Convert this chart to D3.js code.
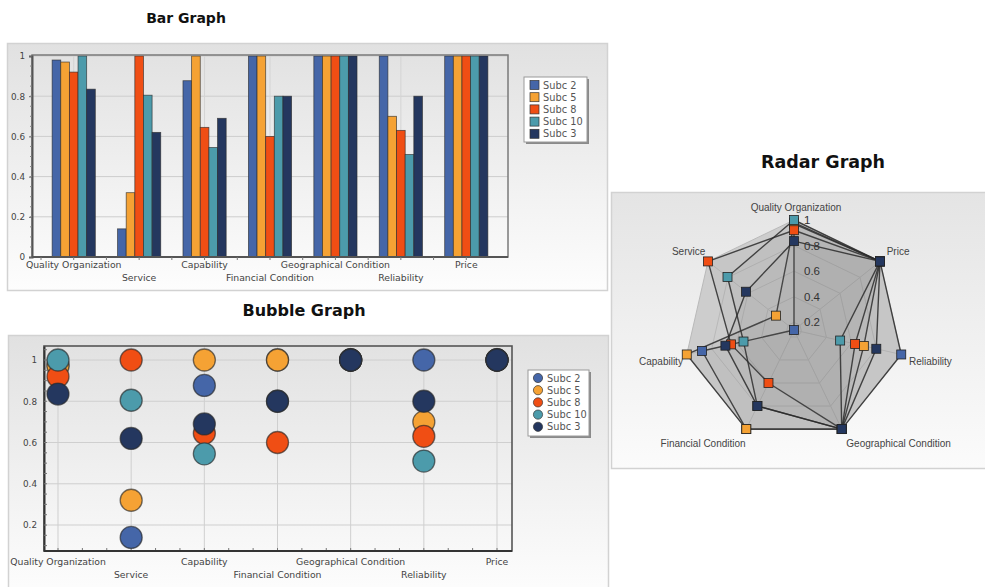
<!DOCTYPE html>
<html>
<head>
<meta charset="utf-8">
<script src="https://cdn.jsdelivr.net/npm/d3@7"></script>
<style>
  body { margin: 0; background: #ffffff; }
  svg { display: block; }
</style>
</head>
<body>
<svg id="chart" width="985" height="587"></svg>
<script>
// ---- data -------------------------------------------------------------
const categories = ["Quality Organization", "Service", "Capability", "Financial Condition",
                    "Geographical Condition", "Reliability", "Price"];
const seriesNames = ["Subc 2", "Subc 5", "Subc 8", "Subc 10", "Subc 3"];
const subc2  = [0.98, 0.14, 0.877, 1.00, 1, 1.00, 1];
const subc5  = [0.97, 0.32, 1.00,  1.00, 1, 0.70, 1];
const subc8  = [0.92, 1.00, 0.645, 0.60, 1, 0.63, 1];
const subc10 = [1.00, 0.805, 0.545, 0.80, 1, 0.51, 1];
const subc3  = [0.835, 0.62, 0.69, 0.80, 1, 0.80, 1];
const seriesColors = ["#4566a8", "#f5a234", "#f04e14", "#4c9bab", "#24375f"];
const valueTicks = [0, 0.2, 0.4, 0.6, 0.8, 1];
const bubbleTicks = [0.2, 0.4, 0.6, 0.8, 1];
const radarTicks = [0.2, 0.4, 0.6, 0.8, 1];

const series = seriesNames.map((name, i) => ({
  name, color: seriesColors[i], values: [subc2, subc5, subc8, subc10, subc3][i]
}));

const svg = d3.select("#chart");
const fmt = d3.format("~g");
const labelFont = "'DejaVu Sans', Verdana, sans-serif";

// ---- shared defs --------------------------------------------------------
const defs = svg.append("defs");
function vGradient(id, top, bottom) {
  const g = defs.append("linearGradient").attr("id", id)
    .attr("x1", 0).attr("y1", 0).attr("x2", 0).attr("y2", 1);
  g.append("stop").attr("offset", "0%").attr("stop-color", top);
  g.append("stop").attr("offset", "100%").attr("stop-color", bottom);
}
vGradient("panelGrad", "#e1e1e1", "#fdfdfd");
vGradient("radarGrad", "#e4e4e4", "#fbfbfb");

function panel(x, y, w, h, fill) {
  svg.append("rect").attr("x", x + 0.5).attr("y", y + 0.5).attr("width", w).attr("height", h)
    .attr("fill", fill).attr("stroke", "#d2d2d2").attr("stroke-width", 1.5);
}
function title(text, x, y, size) {
  svg.append("text").attr("x", x).attr("y", y).attr("text-anchor", "middle")
    .attr("dominant-baseline", "central")
    .style("font-family", "'DejaVu Sans', Verdana, sans-serif")
    .style("font-weight", "bold").style("font-size", size + "px").attr("fill", "#111")
    .text(text);
}
function legend(x, y, w, h, marker) {
  const lg = svg.append("g");
  lg.append("rect").attr("x", x + 2).attr("y", y + 2).attr("width", w).attr("height", h)
    .attr("fill", "#8a8a8a");
  lg.append("rect").attr("x", x).attr("y", y).attr("width", w).attr("height", h)
    .attr("fill", "#ffffff").attr("stroke", "#9a9a9a").attr("stroke-width", 1);
  series.forEach((s, i) => {
    const cy = y + 8 + i * 12.2;
    if (marker === "square") {
      lg.append("rect").attr("x", x + 6).attr("y", cy - 4.5).attr("width", 9).attr("height", 9)
        .attr("fill", s.color).attr("stroke", "#333").attr("stroke-width", 0.7);
    } else {
      lg.append("circle").attr("cx", x + 10).attr("cy", cy).attr("r", 4.6)
        .attr("fill", s.color).attr("stroke", "#333").attr("stroke-width", 0.7);
    }
    lg.append("text").attr("x", x + 19).attr("y", cy).attr("dominant-baseline", "central")
      .style("font-family", labelFont).style("font-size", "9.8px").attr("fill", "#555")
      .text(s.name);
  });
}
function staggeredLabels(g, xPos, y1, y2) {
  categories.forEach((c, i) => {
    g.append("text").attr("x", xPos(c)).attr("y", i % 2 === 0 ? y1 : y2)
      .attr("text-anchor", "middle").attr("dominant-baseline", "central")
      .style("font-family", labelFont).style("font-size", "9.3px").attr("fill", "#444")
      .text(c);
  });
}

// ---- Bar Graph ------------------------------------------------------------
panel(7, 43, 600, 247, "url(#panelGrad)");
title("Bar Graph", 186, 18, 14);

const bar = { left: 32, right: 508, top: 55, bottom: 257 };
const barG = svg.append("g");
const xBar = d3.scaleBand().domain(categories).range([41, 499])
  .paddingInner(0.34).paddingOuter(0.17);
const xSub = d3.scaleBand().domain(seriesNames).range([0, xBar.bandwidth()]);
const yBar = d3.scaleLinear().domain([0, 1]).range([bar.bottom, bar.top + 1]);

// grid
barG.selectAll(".hg").data(valueTicks.slice(1)).join("line")
  .attr("x1", bar.left).attr("x2", bar.right)
  .attr("y1", d => yBar(d)).attr("y2", d => yBar(d))
  .attr("stroke", "#cdcdcd").attr("stroke-width", 1);
barG.selectAll(".vg").data(categories).join("line")
  .attr("x1", d => xBar(d) + xBar.bandwidth() / 2).attr("x2", d => xBar(d) + xBar.bandwidth() / 2)
  .attr("y1", bar.top).attr("y2", bar.bottom)
  .attr("stroke", "#d4d4d4").attr("stroke-width", 1);

// bars
categories.forEach((c, ci) => {
  series.forEach(s => {
    const v = s.values[ci];
    barG.append("rect")
      .attr("x", xBar(c) + xSub(s.name)).attr("width", xSub.bandwidth())
      .attr("y", yBar(v)).attr("height", yBar(0) - yBar(v))
      .attr("fill", s.color).attr("stroke", "#2b2b2b").attr("stroke-opacity", 0.75)
      .attr("stroke-width", 0.8);
  });
});

// frame + axes
barG.append("rect").attr("x", bar.left).attr("y", bar.top)
  .attr("width", bar.right - bar.left).attr("height", bar.bottom - bar.top)
  .attr("fill", "none").attr("stroke", "#7a7a7a").attr("stroke-width", 1.5);
const yAxisBar = barG.append("g").attr("transform", `translate(${bar.left},0)`)
  .call(d3.axisLeft(yBar).tickValues(valueTicks).tickFormat(fmt).tickSize(3).tickPadding(4));
yAxisBar.select(".domain").attr("stroke", "#555").attr("stroke-width", 2);
yAxisBar.selectAll("text").style("font-family", labelFont).style("font-size", "8.8px").attr("fill", "#444");
yAxisBar.selectAll("line").attr("stroke", "#666");
barG.selectAll(".ymin").data(d3.range(0.05, 1, 0.05)).join("line")
  .attr("x1", bar.left - 2).attr("x2", bar.left).attr("y1", d => yBar(d)).attr("y2", d => yBar(d))
  .attr("stroke", "#888");
barG.append("line").attr("x1", bar.left).attr("x2", bar.right)
  .attr("y1", bar.bottom).attr("y2", bar.bottom).attr("stroke", "#555").attr("stroke-width", 2);
const barTickXs = categories.flatMap(c => [xBar(c) - xBar.step() * 0.17, xBar(c) + xBar.bandwidth() / 2]);
barG.selectAll(".xt").data(barTickXs).join("line")
  .attr("x1", d => d).attr("x2", d => d).attr("y1", bar.bottom).attr("y2", bar.bottom + 3)
  .attr("stroke", "#777");
staggeredLabels(barG, c => xBar(c) + xBar.bandwidth() / 2, 264.5, 277);
legend(524, 77, 63, 65, "square");

// ---- Bubble Graph -----------------------------------------------------------
panel(8, 335, 600, 260, "url(#panelGrad)");
title("Bubble Graph", 304, 310, 16);

const bub = { left: 44, right: 512, top: 346, bottom: 551 };
const bubG = svg.append("g");
const xBub = d3.scalePoint().domain(categories).range([58, 497]);
const yBub = d3.scaleLinear().domain([0.074, 1.068]).range([bub.bottom, bub.top]);

bubG.selectAll(".hg").data(bubbleTicks).join("line")
  .attr("x1", bub.left).attr("x2", bub.right)
  .attr("y1", d => yBub(d)).attr("y2", d => yBub(d))
  .attr("stroke", "#cfcfcf");
bubG.selectAll(".vg").data(categories).join("line")
  .attr("x1", d => xBub(d)).attr("x2", d => xBub(d))
  .attr("y1", bub.top).attr("y2", bub.bottom)
  .attr("stroke", "#cfcfcf");
const bubTickXs = d3.range(categories.length * 3 - 2).map(k => 58 + k * (497 - 58) / (categories.length * 3 - 3));
bubG.selectAll(".xt").data(bubTickXs).join("line")
  .attr("x1", d => d).attr("x2", d => d).attr("y1", bub.bottom - 3).attr("y2", bub.bottom)
  .attr("stroke", "#777");
bubG.append("rect").attr("x", bub.left).attr("y", bub.top)
  .attr("width", bub.right - bub.left).attr("height", bub.bottom - bub.top)
  .attr("fill", "none").attr("stroke", "#555").attr("stroke-width", 1.6);
const yAxisBub = bubG.append("g").attr("transform", `translate(${bub.left},0)`)
  .call(d3.axisLeft(yBub).tickValues(bubbleTicks).tickFormat(fmt).tickSize(0).tickPadding(7));
yAxisBub.select(".domain").attr("stroke", "#333").attr("stroke-width", 2);
yAxisBub.selectAll("text").style("font-family", labelFont).style("font-size", "8.8px").attr("fill", "#444");
bubG.selectAll(".ymin").data(d3.range(0.1, 1.06, 0.05)).join("line")
  .attr("x1", bub.left).attr("x2", bub.left + 3).attr("y1", d => yBub(d)).attr("y2", d => yBub(d))
  .attr("stroke", "#777");
bubG.append("line").attr("x1", bub.left).attr("x2", bub.right)
  .attr("y1", bub.bottom).attr("y2", bub.bottom).attr("stroke", "#333").attr("stroke-width", 2.2);

series.forEach(s => {
  bubG.selectAll(null).data(s.values).join("circle")
    .attr("cx", (d, i) => xBub(categories[i])).attr("cy", d => yBub(d)).attr("r", 11)
    .attr("fill", s.color).attr("stroke", "#2a2a2a").attr("stroke-opacity", 0.65).attr("stroke-width", 1.3);
});
staggeredLabels(bubG, c => xBub(c), 561.5, 574);
legend(528, 370, 61, 66, "circle");

// ---- Radar Graph ------------------------------------------------------------
panel(611, 192, 380, 276, "url(#radarGrad)");
title("Radar Graph", 823, 162, 17.5);

const rc = { x: 794, y: 330 };
const R = 110;
const n = categories.length;
const allValues = series.flatMap(s => s.values);
const rScale = d3.scaleLinear().domain([d3.min(allValues), 1]).range([0, R]);
const angle = i => -i * 2 * Math.PI / n;
const pt = (i, v) => [rc.x + rScale(v) * Math.sin(angle(i)), rc.y - rScale(v) * Math.cos(angle(i))];
const radG = svg.append("g");
const closed = d3.line().curve(d3.curveLinearClosed);

// web background and rings
radG.append("path").attr("d", closed(categories.map((c, i) => pt(i, 1))))
  .attr("fill", "#cdcdcd").attr("stroke", "none");
radG.selectAll(".ring").data(radarTicks).join("path")
  .attr("d", t => closed(categories.map((c, i) => pt(i, t))))
  .attr("fill", "none").attr("stroke", "#b9b9b9").attr("stroke-width", 1);
radG.selectAll(".spoke").data(categories).join("line")
  .attr("x1", rc.x).attr("y1", rc.y)
  .attr("x2", (c, i) => pt(i, 1)[0]).attr("y2", (c, i) => pt(i, 1)[1])
  .attr("stroke", "#b9b9b9").attr("stroke-width", 1);

// series polygons
series.forEach(s => {
  radG.append("path").attr("d", closed(s.values.map((v, i) => pt(i, v))))
    .attr("fill", "#666").attr("fill-opacity", 0.06)
    .attr("stroke", "#2a2a2a").attr("stroke-opacity", 0.85).attr("stroke-width", 1.4)
    .attr("stroke-linejoin", "round");
});
series.forEach(s => {
  radG.selectAll(null).data(s.values).join("rect")
    .attr("x", (v, i) => pt(i, v)[0] - 4.5).attr("y", (v, i) => pt(i, v)[1] - 4.5)
    .attr("width", 9).attr("height", 9)
    .attr("fill", s.color).attr("stroke", "#222").attr("stroke-width", 0.8);
});

// radial tick labels
radG.selectAll(".rt").data(radarTicks).join("text")
  .attr("x", rc.x + 10).attr("y", t => rc.y - rScale(t))
  .attr("dominant-baseline", "central")
  .style("font-family", "'Liberation Sans', Arial, sans-serif").style("font-size", "11.5px")
  .attr("fill", "#333").text(fmt);

// category labels
categories.forEach((c, i) => {
  const a = angle(i), s = Math.sin(a), co = Math.cos(a);
  const [vx, vy] = pt(i, 1);
  const anchor = Math.abs(s) < 0.1 ? "middle" : (s > 0 ? "start" : "end");
  const dy = co > 0.9 ? -13 : co > 0.5 ? -10 : co > -0.5 ? 7 : 14;
  radG.append("text").attr("x", vx + 6 * s + 2).attr("y", vy + dy)
    .attr("text-anchor", anchor).attr("dominant-baseline", "central")
    .style("font-family", "'Liberation Sans', Arial, sans-serif").style("font-size", "10px")
    .attr("fill", "#444").text(c);
});
</script>
</body>
</html>
